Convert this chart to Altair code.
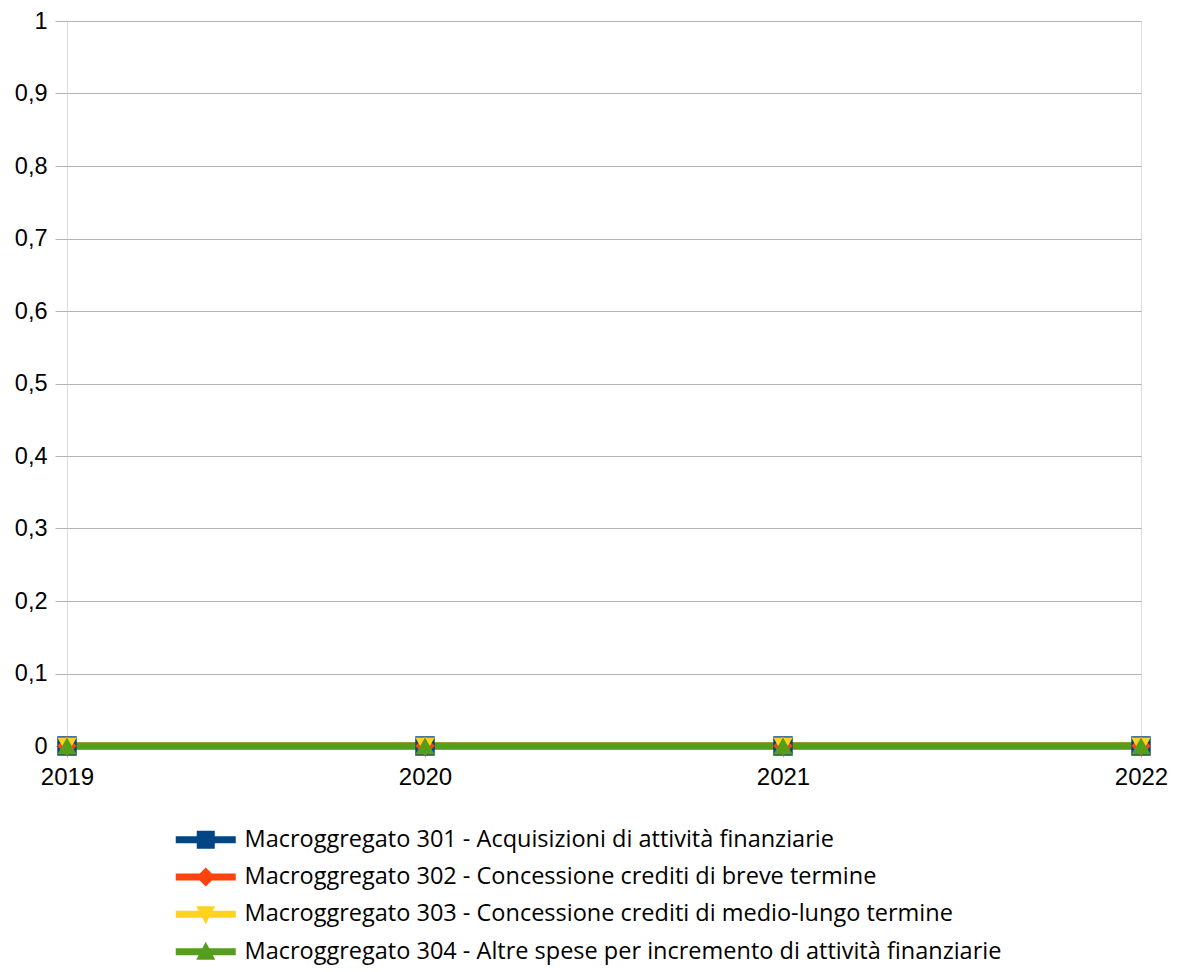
import altair as alt
import pandas as pd

years = [2019, 2020, 2021, 2022]
series_names = [
    "Macroggregato 301 - Acquisizioni di attività finanziarie",
    "Macroggregato 302 - Concessione crediti di breve termine",
    "Macroggregato 303 - Concessione crediti di medio-lungo termine",
    "Macroggregato 304 - Altre spese per incremento di attività finanziarie",
]
values_301 = [0, 0, 0, 0]
values_302 = [0, 0, 0, 0]
values_303 = [0, 0, 0, 0]
values_304 = [0, 0, 0, 0]
colors = ["#004586", "#ff420e", "#ffd320", "#579d1c"]
y_ticks = [0, 0.1, 0.2, 0.3, 0.4, 0.5, 0.6, 0.7, 0.8, 0.9, 1]

rows = []
for name, vals in zip(series_names, [values_301, values_302, values_303, values_304]):
    for yr, v in zip(years, vals):
        rows.append({"year": yr, "value": v, "series": name})
df = pd.DataFrame(rows)

bar = "M-3,-0.35H3V0.35H-3Z "
legend_paths = [
    bar + "M-0.9,-0.9H0.9V0.9H-0.9Z",
    bar + "M0,-0.95L0.95,0L0,0.95L-0.95,0Z",
    bar + "M-0.95,-0.8L0.95,-0.8L0,1Z",
    bar + "M0,-1L0.95,0.8L-0.95,0.8Z",
]

x_enc = alt.X(
    "year:Q",
    scale=alt.Scale(domain=[2019, 2022], nice=False, zero=False),
    axis=alt.Axis(values=years, format="d", title=None, grid=False, domain=False,
                  ticks=True, tickSize=11, tickColor="#b3b3b3", labelPadding=8,
                  labelFontSize=24, labelFont="Liberation Sans", labelColor="#000000",
                  labelFlush=False),
)
y_enc = alt.Y(
    "value:Q",
    scale=alt.Scale(domain=[0, 1], nice=False),
    axis=alt.Axis(values=y_ticks, title=None, grid=True, gridColor="#b3b3b3",
                  domain=False, ticks=True, tickSize=12, tickColor="#b3b3b3",
                  labelPadding=8, labelFontSize=23.5, labelFont="Liberation Sans",
                  labelColor="#000000",
                  labelExpr="replace(format(datum.value, '.1~f'), '.', ',')"),
)
color_scale = alt.Scale(domain=series_names, range=colors)

lines = alt.Chart(df).mark_line(strokeWidth=7).encode(
    x=x_enc, y=y_enc,
    color=alt.Color("series:N", scale=color_scale, legend=None),
    detail="series:N",
)
points = alt.Chart(df).mark_point(filled=True, size=380, opacity=1).encode(
    x=x_enc, y=y_enc,
    color=alt.Color("series:N", scale=color_scale, legend=None),
    shape=alt.Shape("series:N",
                    scale=alt.Scale(domain=series_names,
                                    range=["square", "diamond", "triangle-down", "triangle-up"]),
                    legend=None),
    order=alt.Order("series:N"),
)
inner = alt.layer(lines, points)

legend_props = dict(title=None, orient="none", legendX=127, legendY=807,
                    direction="vertical", symbolSize=400,
                    labelOffset=27, labelFontSize=23.5, labelFont="Open Sans",
                    labelColor="#000000", rowPadding=12.3, padding=0,
                    labelLimit=1000, symbolStrokeWidth=0)

legend_layer = alt.Chart(df).transform_filter("false").mark_point(filled=True, opacity=1).encode(
    x=x_enc, y=y_enc,
    color=alt.Color("series:N", scale=alt.Scale(domain=series_names, range=colors),
                    legend=alt.Legend(**legend_props)),
    shape=alt.Shape("series:N", scale=alt.Scale(domain=series_names, range=legend_paths),
                    legend=alt.Legend(**legend_props)),
)

chart = alt.layer(inner, legend_layer).resolve_scale(
    color="independent", shape="independent"
).properties(
    width=1074, height=725,
    autosize=alt.AutoSizeParams(type="none"),
    padding={"left": 59, "top": 13, "right": 32, "bottom": 224},
).configure_view(stroke="#b3b3b3", strokeWidth=1.5).configure(background="white")

chart.save("out.html", embed_options={"renderer": "svg", "actions": False})
